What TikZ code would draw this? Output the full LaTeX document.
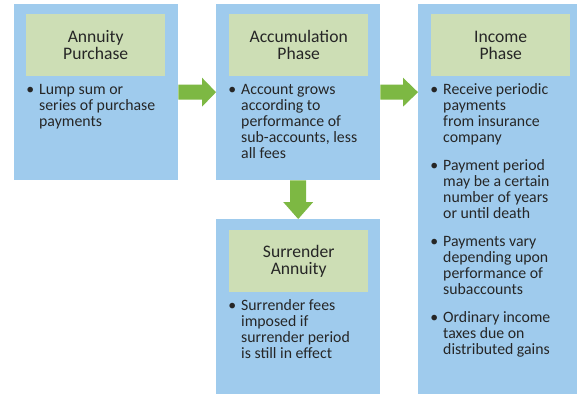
\documentclass[tikz,border=0pt]{standalone}
\usepackage{fontspec}
\setmainfont{Carlito}
\usetikzlibrary{calc}
\definecolor{boxblue}{RGB}{159,203,237}
\definecolor{headgreen}{RGB}{205,222,181}
\definecolor{arrowgreen}{RGB}{125,184,67}
\definecolor{txt}{RGB}{38,38,38}
\tikzset{
  panel/.style={fill=boxblue, draw=none, inner sep=0pt, anchor=north west,
    minimum width=164pt},
  header/.style={fill=headgreen, draw=none, inner sep=0pt, anchor=north west,
    minimum width=139pt, minimum height=62pt, align=center, text=txt,
    font=\fontsize{17.6}{17}\selectfont},
  body/.style={inner sep=0pt, anchor=north west, align=left, text=txt,
    font=\fontsize{15.8}{16}\selectfont},
}
\newcommand{\bul}{\llap{\textbullet\hspace{5pt}}}
\begin{document}
\begin{tikzpicture}[x=1pt,y=-1pt]
\clip (0,0) rectangle (577,393);
\fill[white] (0,0) rectangle (577,393);
% panels
\node[panel, minimum height=176pt] (b1) at (14,4) {};
\node[panel, minimum height=176pt] (b2) at (216,4) {};
\node[panel, minimum height=400pt] (b3) at (418,4) {};
\node[panel, minimum height=190pt] (b4) at (216,219) {};
% headers
\node[header] (h1) at (26,14) {Annuity\\Purchase};
\node[header] (h2) at (229,14) {Accumulation\\Phase};
\node[header] (h3) at (431,14) {Income\\Phase};
\node[header] (h4) at (229,230) {Surrender\\Annuity};
% bodies
\node[body] (t1) at (39,82.8) {\strut\bul Lump sum or\\series of purchase\\payments};
\node[body] (t2) at (241,82.8) {\strut\bul Account grows\\according to\\performance of\\sub-accounts, less\\all fees};
\node[body] (t3) at (443,82.8) {\strut\bul Receive periodic\\payments\\from insurance\\company\\[12pt]
\bul Payment period\\may be a certain\\number of years\\or until death\\[12pt]
\bul Payments vary\\depending upon\\performance of\\subaccounts\\[12pt]
\bul Ordinary income\\taxes due on\\distributed gains};
\node[body] (t4) at (241,298.8) {\strut\bul Surrender fees\\imposed if\\surrender period\\is still in effect};
% arrows
\fill[arrowgreen] let \p1=(b1.east), \p2=(b2.west) in
  (\x1,\y1+7.5pt) -- (\x2-14pt,\y1+7.5pt) -- (\x2-14pt,\y1+14.5pt) -- (\x2,\y1)
  -- (\x2-14pt,\y1-14.5pt) -- (\x2-14pt,\y1-7.5pt) -- (\x1,\y1-7.5pt) -- cycle;
\fill[arrowgreen] let \p1=(b2.east), \p2=(b3.west) in
  (\x1,\y1+7.5pt) -- (\x2-15pt,\y1+7.5pt) -- (\x2-15pt,\y1+14.5pt) -- (\x2,\y1)
  -- (\x2-15pt,\y1-14.5pt) -- (\x2-15pt,\y1-7.5pt) -- (\x1,\y1-7.5pt) -- cycle;
\fill[arrowgreen] let \p1=(b2.south), \p2=(b4.north) in
  (\x1-8pt,\y1) -- (\x1-8pt,\y2+17pt) -- (\x1-15pt,\y2+17pt) -- (\x1,\y2)
  -- (\x1+15pt,\y2+17pt) -- (\x1+8pt,\y2+17pt) -- (\x1+8pt,\y1) -- cycle;
\end{tikzpicture}
\end{document}
